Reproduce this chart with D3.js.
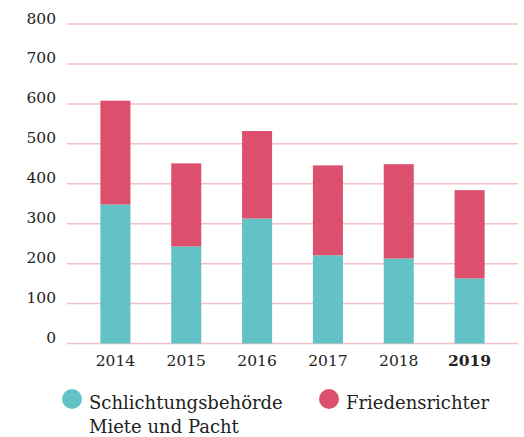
<!DOCTYPE html>
<html>
<head>
<meta charset="utf-8">
<script src="https://cdn.jsdelivr.net/npm/d3@7"></script>
<style>
  body { margin: 0; background: #fff; }
  svg text { font-family: "DejaVu Serif", serif; fill: #222; }
</style>
</head>
<body>
<svg id="chart"></svg>
<script>
const years = ['2014', '2015', '2016', '2017', '2018', '2019'];
const schlichtung = [348, 243, 313, 221, 213, 163];
const friedensrichter = [260, 208, 219, 225, 236, 221];
const yTicks = [0, 100, 200, 300, 400, 500, 600, 700, 800];
const seriesNames = ['Schlichtungsbehörde\nMiete und Pacht', 'Friedensrichter'];

const colors = ['#63c2c6', '#dc506d'];
const width = 524, height = 437;

const svg = d3.select('#chart').attr('width', width).attr('height', height);

const x = d3.scaleBand().domain(years).range([80, 505]).paddingInner(0.576).paddingOuter(0.288);
const y = d3.scaleLinear().domain([0, 800]).range([343.5, 24]);

// grid lines
svg.append('g').selectAll('line').data(yTicks).join('line')
    .attr('x1', 67).attr('x2', 518)
    .attr('y1', d => y(d)).attr('y2', d => y(d))
    .attr('stroke', '#f3c0c7').attr('stroke-width', 1.5);

// y labels
svg.append('g').selectAll('text').data(yTicks).join('text')
    .attr('x', 56).attr('y', d => y(d) - 0.5)
    .attr('text-anchor', 'end')
    .style('font-size', '15.5px')
    .text(d => d);

// stacked bars
const table = years.map((yr, i) => ({ year: yr, s: schlichtung[i], f: friedensrichter[i] }));
const stack = d3.stack().keys(['s', 'f'])(table);
svg.append('g').selectAll('g').data(stack).join('g')
    .attr('fill', (d, i) => colors[i])
    .selectAll('rect').data(d => d).join('rect')
    .attr('x', d => x(d.data.year))
    .attr('width', x.bandwidth())
    .attr('y', d => y(d[1]))
    .attr('height', d => y(d[0]) - y(d[1]));

// x labels
svg.append('g').selectAll('text').data(years).join('text')
    .attr('x', d => x(d) + x.bandwidth() / 2)
    .attr('y', 366)
    .attr('text-anchor', 'middle')
    .style('font-size', '15.5px')
    .style('font-weight', d => d === '2019' ? 'bold' : 'normal')
    .text(d => d);

// legend
const legendX = [72, 329];
const lg = svg.append('g').selectAll('g').data(seriesNames).join('g')
    .attr('transform', (d, i) => `translate(${legendX[i]},399)`);
lg.append('circle').attr('r', 10).attr('fill', (d, i) => colors[i]);
lg.append('text')
    .attr('x', 17).attr('y', 10)
    .style('font-size', '18px')
    .selectAll('tspan').data(d => d.split('\n')).join('tspan')
    .attr('x', 17).attr('dy', (d, i) => i ? 24 : 0)
    .text(d => d);
</script>
</body>
</html>
